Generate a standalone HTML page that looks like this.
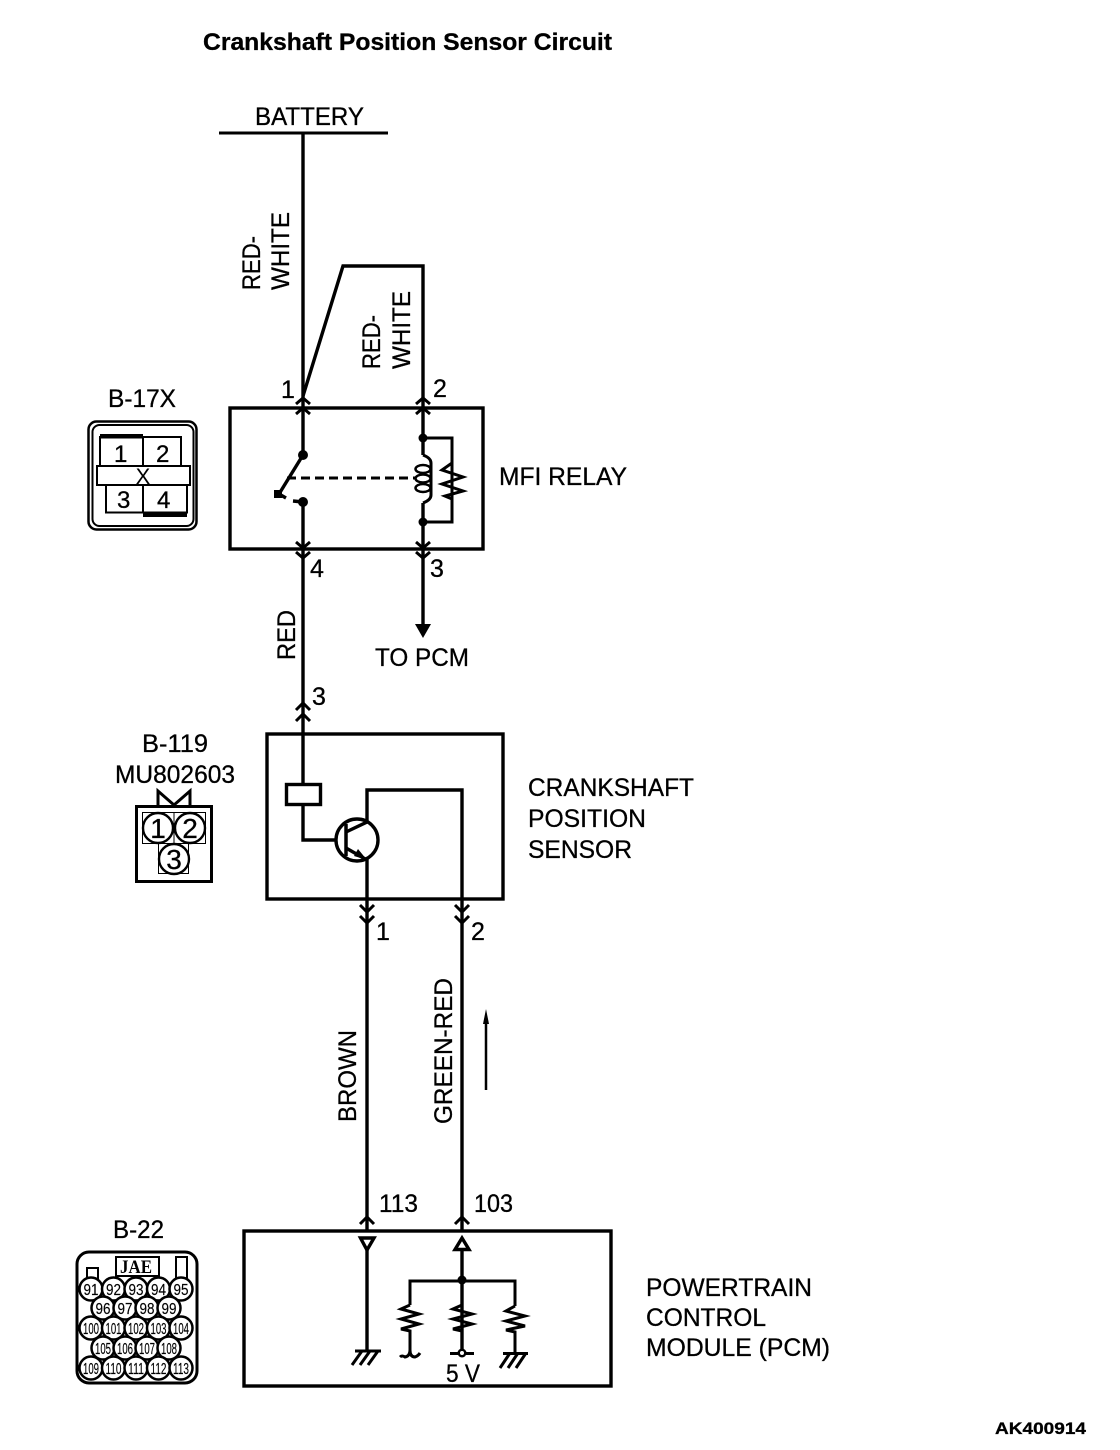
<!DOCTYPE html>
<html><head><meta charset="utf-8"><style>
html,body{margin:0;padding:0;background:#fff}
svg{display:block}
text{font-family:"Liberation Sans",sans-serif;font-size:25px;fill:#000;stroke:#000;stroke-width:.3}
.n{font-size:16px;text-anchor:middle;stroke-width:.15}
</style></head><body>
<svg width="1120" height="1450" viewBox="0 0 1120 1450" xmlns="http://www.w3.org/2000/svg">
<text x="203" y="50" style="font-weight:bold;font-size:24px" textLength="409" lengthAdjust="spacingAndGlyphs">Crankshaft Position Sensor Circuit</text>
<text x="255" y="125" textLength="109" lengthAdjust="spacingAndGlyphs">BATTERY</text>
<g fill="none" stroke="#000" stroke-width="3.4">
<path d="M219 133H388" stroke-width="3"/>
<path d="M303 133V408"/>
<path d="M303 396L343 266H423V408"/>
<rect x="230" y="408" width="253" height="141"/>
<path d="M303 408V455M303 502V549"/>
<path d="M423 408V455M423 503V630"/>
<path d="M423 438H452V522H423" stroke-width="3"/>
<path d="M452 438V463L442 470L463 477L442 484L463 491L445 496L452 499V522" stroke-width="3"/>
<path d="M303 455L279 494"/>
<path d="M279 494L286 498M293 501L303 502" />
<path d="M287 478H416" stroke-dasharray="9 5" stroke-width="3"/>
<path d="M423 455Q431 458 431 463V495Q431 500 423 503" stroke-width="3"/>
<ellipse cx="423" cy="469" rx="7.500" ry="4" stroke-width="2.500"/>
<ellipse cx="423" cy="478.500" rx="7.500" ry="4" stroke-width="2.500"/>
<ellipse cx="423" cy="488" rx="7.500" ry="4" stroke-width="2.500"/>
<path d="M296 404L303 398L310 404M296 414L303 408L310 414" stroke-width="3"/>
<path d="M416 404L423 398L430 404M416 414L423 408L430 414" stroke-width="3"/>
<path d="M296 542L303 548L310 542M296 552L303 558L310 552" stroke-width="3"/>
<path d="M416 542L423 548L430 542M416 552L423 558L430 552" stroke-width="3"/>
<path d="M303 549V733"/>
<path d="M296 710L303 703L310 710M296 721L303 714L310 721" stroke-width="3"/>
<rect x="267" y="734" width="236" height="165"/>
<path d="M303 733V784M303 805V840H335"/>
<rect x="286.500" y="784.500" width="34" height="20"/>
<circle cx="357" cy="840" r="21"/>
<path d="M346 824V856" stroke-width="3.500"/>
<path d="M346 832L367 822V790H462V1230"/>
<path d="M346 848L367 860V1230"/>
<path d="M360 905L367 912L374 905M360 916L367 923L374 916" stroke-width="3"/>
<path d="M455 905L462 912L469 905M455 916L462 923L469 916" stroke-width="3"/>
<path d="M360 1224L367 1217L374 1224" stroke-width="3"/>
<path d="M455 1224L462 1217L469 1224" stroke-width="3"/>
<rect x="244" y="1231" width="367" height="155"/>
<path d="M360.500 1238H374L367 1250Z"/>
<path d="M462 1238L469 1249.500H455Z"/>
<path d="M367 1250V1352M462 1250V1352"/>
<path d="M410 1305V1281H515V1306" stroke-width="3"/>
<path d="M410 1305L401 1309L419 1314L401 1319L419 1324L401 1329L410 1331V1350Q410 1356 405 1357Q402 1355 400 1357M410 1350Q410 1357 415 1357Q418 1356 420 1353" stroke-width="3"/>
<path d="M462 1305L453 1309L472 1314L453 1319L472 1324L453 1329L462 1331V1352" stroke-width="3"/>
<path d="M515 1306L506 1311L525 1316L506 1321L525 1326L506 1330L515 1332V1354" stroke-width="3"/>
<path d="M450 1353.500H474" stroke-width="3"/>
<path d="M355 1351H381M362 1351L352 1365M370 1351L360 1365M378 1351L368 1365" stroke-width="3"/>
<path d="M503 1353.500H528M510 1353L500 1368M518 1353L508 1368M526 1353L516 1368" stroke-width="3"/>
<rect x="88.500" y="421.500" width="108" height="108" rx="8" stroke-width="2.500"/>
</g>
<g fill="none" stroke="#000" stroke-width="2">
<rect x="92.500" y="425" width="101" height="101" rx="7"/>
<path d="M100 466V437H181V466M143 437V466"/>
<rect x="97" y="466" width="93" height="19"/>
<path d="M106 485V512.500H187V485M143 485V512"/>
<rect x="136.500" y="806.500" width="75" height="75" stroke-width="3"/>
<path d="M174 805L158 791V805M174 805L190 791V805" stroke-width="3"/>
<rect x="142.500" y="812.500" width="63" height="31" stroke-width="1"/>
<path d="M174 812V843" stroke-width="1"/>
<rect x="158.500" y="843.500" width="30" height="30" stroke-width="1"/>
<g stroke-width="2.400">
<circle cx="158" cy="828" r="15"/><circle cx="190" cy="828" r="15"/><circle cx="174" cy="859" r="15"/>
</g>
<rect x="77" y="1252" width="120" height="131" rx="12" stroke-width="3"/>
<rect x="116" y="1257" width="43" height="19" stroke-width="2"/>
<path d="M87 1281V1268H98V1281M176 1281V1257H187V1281"/>
<g fill="#fff" stroke-width="2.500">
<circle cx="91" cy="1289" r="11.500"/><circle cx="113.500" cy="1289" r="11.500"/><circle cx="136" cy="1289" r="11.500"/><circle cx="158.500" cy="1289" r="11.500"/><circle cx="181" cy="1289" r="11.500"/>
<circle cx="103" cy="1308" r="11.500"/><circle cx="125" cy="1308" r="11.500"/><circle cx="147" cy="1308" r="11.500"/><circle cx="169" cy="1308" r="11.500"/>
<circle cx="91" cy="1328" r="11.500"/><circle cx="113.500" cy="1328" r="11.500"/><circle cx="136" cy="1328" r="11.500"/><circle cx="158.500" cy="1328" r="11.500"/><circle cx="181" cy="1328" r="11.500"/>
<circle cx="103" cy="1348" r="11.500"/><circle cx="125" cy="1348" r="11.500"/><circle cx="147" cy="1348" r="11.500"/><circle cx="169" cy="1348" r="11.500"/>
<circle cx="91" cy="1368" r="11.500"/><circle cx="113.500" cy="1368" r="11.500"/><circle cx="136" cy="1368" r="11.500"/><circle cx="158.500" cy="1368" r="11.500"/><circle cx="181" cy="1368" r="11.500"/>
</g>
<path d="M486 1090V1018" stroke-width="2.500"/>
</g>
<g fill="#000" stroke="none">
<rect x="100" y="434" width="43" height="4.500"/>
<rect x="143" y="512" width="44" height="5"/>
<path d="M415 624H431L423 638Z"/>
<circle cx="303" cy="455" r="5"/><circle cx="303" cy="502" r="5"/>
<rect x="274" y="490" width="8" height="8"/>
<circle cx="423" cy="438" r="4.500"/><circle cx="423" cy="522" r="4.500"/>
<path d="M367 860L354 856L358 849Z"/>
<circle cx="462" cy="1280" r="4.500"/><circle cx="462" cy="1353" r="4.500"/>
<path d="M486 1009L489 1024H483Z"/>
</g>
<circle cx="462" cy="1353" r="2" fill="#fff"/>
<text x="281" y="398">1</text><text x="433" y="397">2</text>
<text x="310" y="577">4</text><text x="430" y="577">3</text>
<text x="108" y="407" textLength="68" lengthAdjust="spacingAndGlyphs">B-17X</text>
<text x="499" y="485" textLength="128" lengthAdjust="spacingAndGlyphs">MFI RELAY</text>
<text x="114" y="462" style="font-size:24px">1</text><text x="156" y="462" style="font-size:24px">2</text>
<text x="117" y="508" style="font-size:24px">3</text><text x="157" y="508" style="font-size:24px">4</text>
<text x="143" y="484" style="font-size:22px;text-anchor:middle;stroke-width:0">X</text>
<text x="375" y="666" textLength="94" lengthAdjust="spacingAndGlyphs">TO PCM</text>
<text x="312" y="705">3</text>
<text x="142" y="752" textLength="66" lengthAdjust="spacingAndGlyphs">B-119</text>
<text x="115" y="783" textLength="120" lengthAdjust="spacingAndGlyphs">MU802603</text>
<text x="158" y="838" style="font-size:28px;text-anchor:middle">1</text>
<text x="190" y="838" style="font-size:28px;text-anchor:middle">2</text>
<text x="174" y="869" style="font-size:28px;text-anchor:middle">3</text>
<text x="528" y="796" textLength="166" lengthAdjust="spacingAndGlyphs">CRANKSHAFT</text>
<text x="528" y="827" textLength="118" lengthAdjust="spacingAndGlyphs">POSITION</text>
<text x="528" y="858" textLength="104" lengthAdjust="spacingAndGlyphs">SENSOR</text>
<text x="376" y="940">1</text><text x="471" y="940">2</text>
<text x="379" y="1212" textLength="39" lengthAdjust="spacingAndGlyphs">113</text>
<text x="474" y="1212" textLength="39" lengthAdjust="spacingAndGlyphs">103</text>
<text x="113" y="1238" textLength="51" lengthAdjust="spacingAndGlyphs">B-22</text>
<text x="646" y="1296" textLength="166" lengthAdjust="spacingAndGlyphs">POWERTRAIN</text>
<text x="646" y="1326" textLength="120" lengthAdjust="spacingAndGlyphs">CONTROL</text>
<text x="646" y="1356" textLength="184" lengthAdjust="spacingAndGlyphs">MODULE (PCM)</text>
<text x="446" y="1382" textLength="34" lengthAdjust="spacingAndGlyphs">5 V</text>
<text x="995" y="1434" style="font-weight:bold;font-size:17px" textLength="91" lengthAdjust="spacingAndGlyphs">AK400914</text>
<text transform="translate(260 290) rotate(-90)" textLength="54" lengthAdjust="spacingAndGlyphs">RED-</text>
<text transform="translate(289 290) rotate(-90)" textLength="78" lengthAdjust="spacingAndGlyphs">WHITE</text>
<text transform="translate(380 369) rotate(-90)" textLength="54" lengthAdjust="spacingAndGlyphs">RED-</text>
<text transform="translate(410 369) rotate(-90)" textLength="78" lengthAdjust="spacingAndGlyphs">WHITE</text>
<text transform="translate(295 660) rotate(-90)" textLength="50" lengthAdjust="spacingAndGlyphs">RED</text>
<text transform="translate(356 1122) rotate(-90)" textLength="92" lengthAdjust="spacingAndGlyphs">BROWN</text>
<text transform="translate(452 1124) rotate(-90)" textLength="146" lengthAdjust="spacingAndGlyphs">GREEN-RED</text>
<text x="136" y="1273" style="font-family:'Liberation Serif',serif;font-weight:bold;font-size:19px;text-anchor:middle;stroke-width:0" textLength="32" lengthAdjust="spacingAndGlyphs">JAE</text>
<g>
<text class="n" x="91" y="1295" textLength="15" lengthAdjust="spacingAndGlyphs">91</text><text class="n" x="113.500" y="1295" textLength="15" lengthAdjust="spacingAndGlyphs">92</text><text class="n" x="136" y="1295" textLength="15" lengthAdjust="spacingAndGlyphs">93</text><text class="n" x="158.500" y="1295" textLength="15" lengthAdjust="spacingAndGlyphs">94</text><text class="n" x="181" y="1295" textLength="15" lengthAdjust="spacingAndGlyphs">95</text>
<text class="n" x="103" y="1314" textLength="15" lengthAdjust="spacingAndGlyphs">96</text><text class="n" x="125" y="1314" textLength="15" lengthAdjust="spacingAndGlyphs">97</text><text class="n" x="147" y="1314" textLength="15" lengthAdjust="spacingAndGlyphs">98</text><text class="n" x="169" y="1314" textLength="15" lengthAdjust="spacingAndGlyphs">99</text>
<text class="n" x="91" y="1334" textLength="16" lengthAdjust="spacingAndGlyphs">100</text><text class="n" x="113.500" y="1334" textLength="16" lengthAdjust="spacingAndGlyphs">101</text><text class="n" x="136" y="1334" textLength="16" lengthAdjust="spacingAndGlyphs">102</text><text class="n" x="158.500" y="1334" textLength="16" lengthAdjust="spacingAndGlyphs">103</text><text class="n" x="181" y="1334" textLength="16" lengthAdjust="spacingAndGlyphs">104</text>
<text class="n" x="103" y="1354" textLength="16" lengthAdjust="spacingAndGlyphs">105</text><text class="n" x="125" y="1354" textLength="16" lengthAdjust="spacingAndGlyphs">106</text><text class="n" x="147" y="1354" textLength="16" lengthAdjust="spacingAndGlyphs">107</text><text class="n" x="169" y="1354" textLength="16" lengthAdjust="spacingAndGlyphs">108</text>
<text class="n" x="91" y="1374" textLength="16" lengthAdjust="spacingAndGlyphs">109</text><text class="n" x="113.500" y="1374" textLength="16" lengthAdjust="spacingAndGlyphs">110</text><text class="n" x="136" y="1374" textLength="16" lengthAdjust="spacingAndGlyphs">111</text><text class="n" x="158.500" y="1374" textLength="16" lengthAdjust="spacingAndGlyphs">112</text><text class="n" x="181" y="1374" textLength="16" lengthAdjust="spacingAndGlyphs">113</text>
</g>
</svg>
</body></html>
